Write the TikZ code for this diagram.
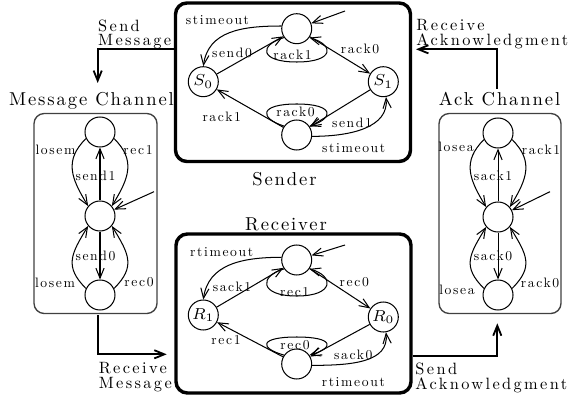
\documentclass[tikz,border=0pt]{standalone}
\usepackage{fontspec}
\newfontfamily\lsLbl{lmroman10-regular.otf}[LetterSpace=12]
\newfontfamily\lsTtl{lmroman10-regular.otf}[LetterSpace=10]
\newfontfamily\lsCon{lmroman10-regular.otf}[LetterSpace=14.5]
\usetikzlibrary{arrows.meta}
\begin{document}
\begin{tikzpicture}[x=0.44pt,y=-0.44pt,
  >={Straight Barb[length=4.4pt,width=3.6pt]},
  st/.style={circle,draw,line width=0.45pt,minimum size=13.2pt,inner sep=0pt,font=\fontsize{7.5}{9}\selectfont},
  tr/.style={->,line width=0.45pt},
  lbl/.style={font=\fontsize{6}{7}\lsLbl,inner sep=0pt},
  bigbox/.style={draw,line width=1.5pt,rounded corners=5pt,inner sep=0pt},
  chbox/.style={draw=black!75,line width=0.6pt,rounded corners=4.5pt,inner sep=0pt},
  conn/.style={->,line width=0.8pt},
  ttl/.style={font=\fontsize{8.2}{10}\lsTtl,anchor=base,inner sep=0pt},
  clbl/.style={font=\fontsize{7.2}{9}\lsCon,anchor=base west,inner sep=0pt}
]
\useasboundingbox (0,0) rectangle (576,401);

% ---------- boxes ----------
\node[bigbox,minimum width=103.4pt,minimum height=69.74pt] (sender) at (293,82.25) {};
\node[bigbox,minimum width=103.4pt,minimum height=69.96pt] (receiver) at (293.5,313.5) {};
\node[chbox,minimum width=54.12pt,minimum height=88pt] (mcbox) at (95.5,213.5) {};
\node[chbox,minimum width=53.68pt,minimum height=88pt] (ackbox) at (500,213.5) {};

% ---------- titles ----------
\node[ttl] (tmc) at (91.5,105.5) {Message Channel};
\node[ttl] (tack) at (499.5,105.5) {Ack Channel};
\node[ttl] (tsnd) at (284.5,185) {Sender};
\node[ttl] (trcv) at (286,230) {Receiver};

% ---------- sender ----------
\node[st] (st) at (296.7,28.7) {};
\node[st] (s0) at (203.3,81.7) {$S_0$};
\node[st] (s1) at (383.3,81.7) {$S_1$};
\node[st] (sb) at (296.7,135) {};
\coordinate (sinit) at (345,11);
\draw[tr] (sinit) -- (st);
\draw[tr] (st.170) .. controls +(-40,0) and +(5,-35) .. (s0.90);
\draw[tr] (s0) -- (st);
\draw[tr] (st.215) .. controls (259,45) and (259,62) .. (296.7,62) .. controls (334.4,62) and (334.4,45) .. (st.325);
\draw[tr] (st) -- (s1);
\draw[tr] (s1) -- (sb);
\draw[tr] (sb.-5) .. controls +(40,0) and +(3,30) .. (s1.280);
\draw[tr] (sb) -- (s0);
\draw[tr] (sb.145) .. controls (259,118) and (259,104) .. (296.7,104) .. controls (334.4,104) and (334.4,118) .. (sb.35);
\node[lbl] (l1) at (217.5,20) {stimeout};
\node[lbl] (l2) at (232,53.3) {send0};
\node[lbl] (l3) at (292.5,55) {rack1};
\node[lbl] (l4) at (360,49.3) {rack0};
\node[lbl] (l5) at (295.5,111.7) {rack0};
\node[lbl] (l6) at (221.7,117.3) {rack1};
\node[lbl] (l7) at (352,123.3) {send1};
\node[lbl] (l8) at (353.7,148.3) {stimeout};

% ---------- receiver ----------
\node[st] (rt) at (296.7,260) {};
\node[st] (r1) at (203.3,315) {$R_1$};
\node[st] (r0) at (383.3,317) {$R_0$};
\node[st] (rb) at (296.7,364) {};
\coordinate (rinit) at (345,245);
\draw[tr] (rinit) -- (rt);
\draw[tr] (rt.170) .. controls +(-40,0) and +(5,-35) .. (r1.90);
\draw[tr] (r1) -- (rt);
\draw[tr] (rt.215) .. controls (259,276) and (259,296) .. (296.7,296) .. controls (334.4,296) and (334.4,276) .. (rt.325);
\draw[tr] (rt) -- (r0);
\draw[tr] (r0) -- (rb);
\draw[tr] (rb.-5) .. controls +(40,0) and +(3,30) .. (r0.280);
\draw[tr] (rb) -- (r1);
\draw[tr] (rb.145) .. controls (259,348) and (259,337) .. (296.7,337) .. controls (334.4,337) and (334.4,348) .. (rb.35);
\node[lbl] (m1) at (221.7,251.7) {rtimeout};
\node[lbl] (m2) at (232,287.3) {sack1};
\node[lbl] (m3) at (294.7,291.7) {rec1};
\node[lbl] (m4) at (354.3,281.7) {rec0};
\node[lbl] (m5) at (295,345) {rec0};
\node[lbl] (m6) at (226,340) {rec1};
\node[lbl] (m7) at (353.3,355) {sack0};
\node[lbl] (m8) at (353.3,381.7) {rtimeout};

% ---------- message channel ----------
\node[st] (mt) at (100,132) {};
\node[st] (mm) at (100,216) {};
\node[st] (mb) at (100,295) {};
\coordinate (minit) at (154,191.7);
\draw[tr] (minit) -- (mm);
\draw[tr] (mm) -- (mt);
\draw[tr] (mm) -- (mb);
\draw[tr] (mt.205) .. controls +(-22,22) and +(-17,-28) .. (mm.140);
\draw[tr] (mt.-25) .. controls +(22,22) and +(17,-28) .. (mm.40);
\draw[tr] (mb.155) .. controls +(-22,-22) and +(-17,28) .. (mm.220);
\draw[tr] (mb.25) .. controls +(22,-22) and +(17,28) .. (mm.-40);
\node[lbl] (n1) at (55.5,150) {losem};
\node[lbl] (n2) at (138,150) {rec1};
\node[lbl] (n3) at (95.5,176) {send1};
\node[lbl] (n4) at (95.5,255.7) {send0};
\node[lbl] (n5) at (55,283.3) {losem};
\node[lbl] (n6) at (139,281.7) {rec0};

% ---------- ack channel ----------
\node[st] (at) at (498,133) {};
\node[st] (am) at (498,217) {};
\node[st] (ab) at (498,295) {};
\coordinate (ainit) at (550,191.7);
\draw[tr] (ainit) -- (am);
\draw[tr] (am) -- (at);
\draw[tr] (am) -- (ab);
\draw[tr] (at.205) .. controls +(-22,22) and +(-17,-28) .. (am.140);
\draw[tr] (at.-25) .. controls +(22,22) and +(17,-28) .. (am.40);
\draw[tr] (ab.155) .. controls +(-22,-22) and +(-17,28) .. (am.220);
\draw[tr] (ab.25) .. controls +(22,-22) and +(17,28) .. (am.-40);
\node[lbl] (k1) at (456,146.7) {losea};
\node[lbl] (k2) at (541,150) {rack1};
\node[lbl] (k3) at (493,176) {sack1};
\node[lbl] (k4) at (493,255.7) {sack0};
\node[lbl] (k5) at (540,283.3) {rack0};
\node[lbl] (k6) at (457,290) {losea};

% ---------- connectors between components ----------
\coordinate (topy) at (0,49.3);
\coordinate (mcIn) at (97.7,83);
\draw[conn] (sender.west |- topy) -| (mcIn);
\coordinate (ackOut) at (497.3,89);
\coordinate (raEnd) at (416,49.3);
\draw[conn] (ackOut) |- (raEnd);
\coordinate (mcOut) at (97.7,315);
\coordinate (rmEnd) at (166.7,354.3);
\draw[conn] (mcOut) |- (rmEnd);
\coordinate (boty) at (0,355.7);
\coordinate (saEnd) at (497.3,323.3);
\draw[conn] (receiver.east |- boty) -| (saEnd);

\node[clbl] (c1) at (97.7,31.7) {Send};
\node[clbl] (c2) at (97.7,46) {Message};
\node[clbl] (c3) at (416,31) {Receive};
\node[clbl] (c4) at (416,46) {Acknowledgment};
\node[clbl] (c5) at (98.3,373.7) {Receive};
\node[clbl] (c6) at (98.3,388) {Message};
\node[clbl] (c7) at (415,374) {Send};
\node[clbl] (c8) at (415,389.3) {Acknowledgment};
\end{tikzpicture}
\end{document}
